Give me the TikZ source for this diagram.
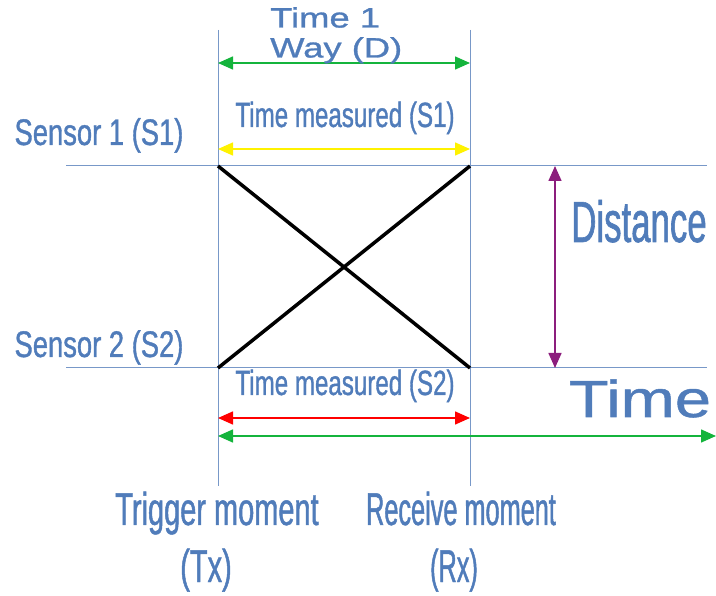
\documentclass[tikz,border=0pt]{standalone}
\usepackage{fontspec}
\usetikzlibrary{arrows.meta}
\setmainfont{Liberation Sans}
\newfontfamily\sensorfont[FakeStretch=0.74,FakeBold=1]{Liberation Sans}
\newfontfamily\measfont[FakeStretch=0.69,FakeBold=1]{Liberation Sans}
\newfontfamily\trigfont[FakeStretch=0.63,FakeBold=1]{Liberation Sans}
\newfontfamily\recvfont[FakeStretch=0.55,FakeBold=1]{Liberation Sans}
\newfontfamily\distfont[FakeStretch=0.6,FakeBold=1]{Liberation Sans}
\newfontfamily\wayfont[FakeStretch=1.3,FakeBold=1]{Liberation Sans}
\newfontfamily\timefont[FakeStretch=1.25,FakeBold=1]{Liberation Sans}
\definecolor{guideblue}{RGB}{120,152,200}
\definecolor{lblblue}{RGB}{80,124,186}
\definecolor{waygreen}{RGB}{20,180,60}
\definecolor{distpurple}{RGB}{140,30,125}
\begin{document}
\begin{tikzpicture}[x=1pt, y=-1pt, >={Triangle[length=15pt,width=13pt]},
  guide/.style={draw=guideblue, line width=1pt},
  span/.style={<->, line width=1.5pt},
  lbl/.style={text=lblblue, inner sep=0pt, anchor=base}]
\useasboundingbox (0,0) rectangle (716,596);

% moments
\coordinate (txtop) at (218,30);
\coordinate (txbot) at (218,486);
\coordinate (rxtop) at (470,30);
\coordinate (rxbot) at (470,486);
\draw[guide] (txtop) -- (txbot);
\draw[guide] (rxtop) -- (rxbot);

% sensors
\coordinate (s1l) at (66,166);
\coordinate (s1r) at (707,166);
\coordinate (s2l) at (66,368);
\coordinate (s2r) at (707,368);
\draw[guide] (s1l) -- (s1r);
\draw[guide] (s2l) -- (s2r);

% crossing paths
\coordinate (s1tx) at (218,166);
\coordinate (s1rx) at (470,166);
\coordinate (s2tx) at (218,368);
\coordinate (s2rx) at (470,368);
\draw[line width=3.5pt] (s1tx) -- (s2rx);
\draw[line width=3.5pt] (s2tx) -- (s1rx);

% spans
\coordinate (wayl) at (218,63);
\coordinate (wayr) at (470,63);
\draw[span, waygreen] (wayl) -- (wayr);
\coordinate (m1l) at (218,149);
\coordinate (m1r) at (470,149);
\draw[span, yellow] (m1l) -- (m1r);
\coordinate (m2l) at (218,418);
\coordinate (m2r) at (470,418);
\draw[span, red] (m2l) -- (m2r);
\coordinate (axl) at (218,436);
\coordinate (axr) at (716,436);
\draw[span, waygreen] (axl) -- (axr);
\coordinate (dtop) at (555,166);
\coordinate (dbot) at (555,368);
\draw[span, distpurple] (dtop) -- (dbot);

% labels
\node[lbl, anchor=north west, align=left, font=\wayfont\fontsize{28}{30}\selectfont] (way) at (270,7) {Time 1\\Way (D)};
\node[lbl, font=\sensorfont\fontsize{37}{40}\selectfont] (sen1) at (99,145) {Sensor 1 (S1)};
\node[lbl, font=\sensorfont\fontsize{37}{40}\selectfont] (sen2) at (99,357) {Sensor 2 (S2)};
\node[lbl, font=\measfont\fontsize{35}{38}\selectfont] (meas1) at (345,127) {Time measured (S1)};
\node[lbl, font=\measfont\fontsize{35}{38}\selectfont] (meas2) at (345,395) {Time measured (S2)};
\node[lbl, font=\distfont\fontsize{58}{60}\selectfont] (dist) at (639,242) {Distance};
\node[lbl, font=\timefont\fontsize{52}{54}\selectfont] (time) at (640,417) {Time};
\node[lbl, font=\trigfont\fontsize{46}{48}\selectfont] (trig) at (217,525) {Trigger moment};
\node[lbl, font=\trigfont\fontsize{46}{48}\selectfont] (tx) at (206,582) {(Tx)};
\node[lbl, font=\recvfont\fontsize{46}{48}\selectfont] (recv) at (461,525) {Receive moment};
\node[lbl, font=\recvfont\fontsize{46}{48}\selectfont] (rx) at (454,582) {(Rx)};
\end{tikzpicture}
\end{document}
